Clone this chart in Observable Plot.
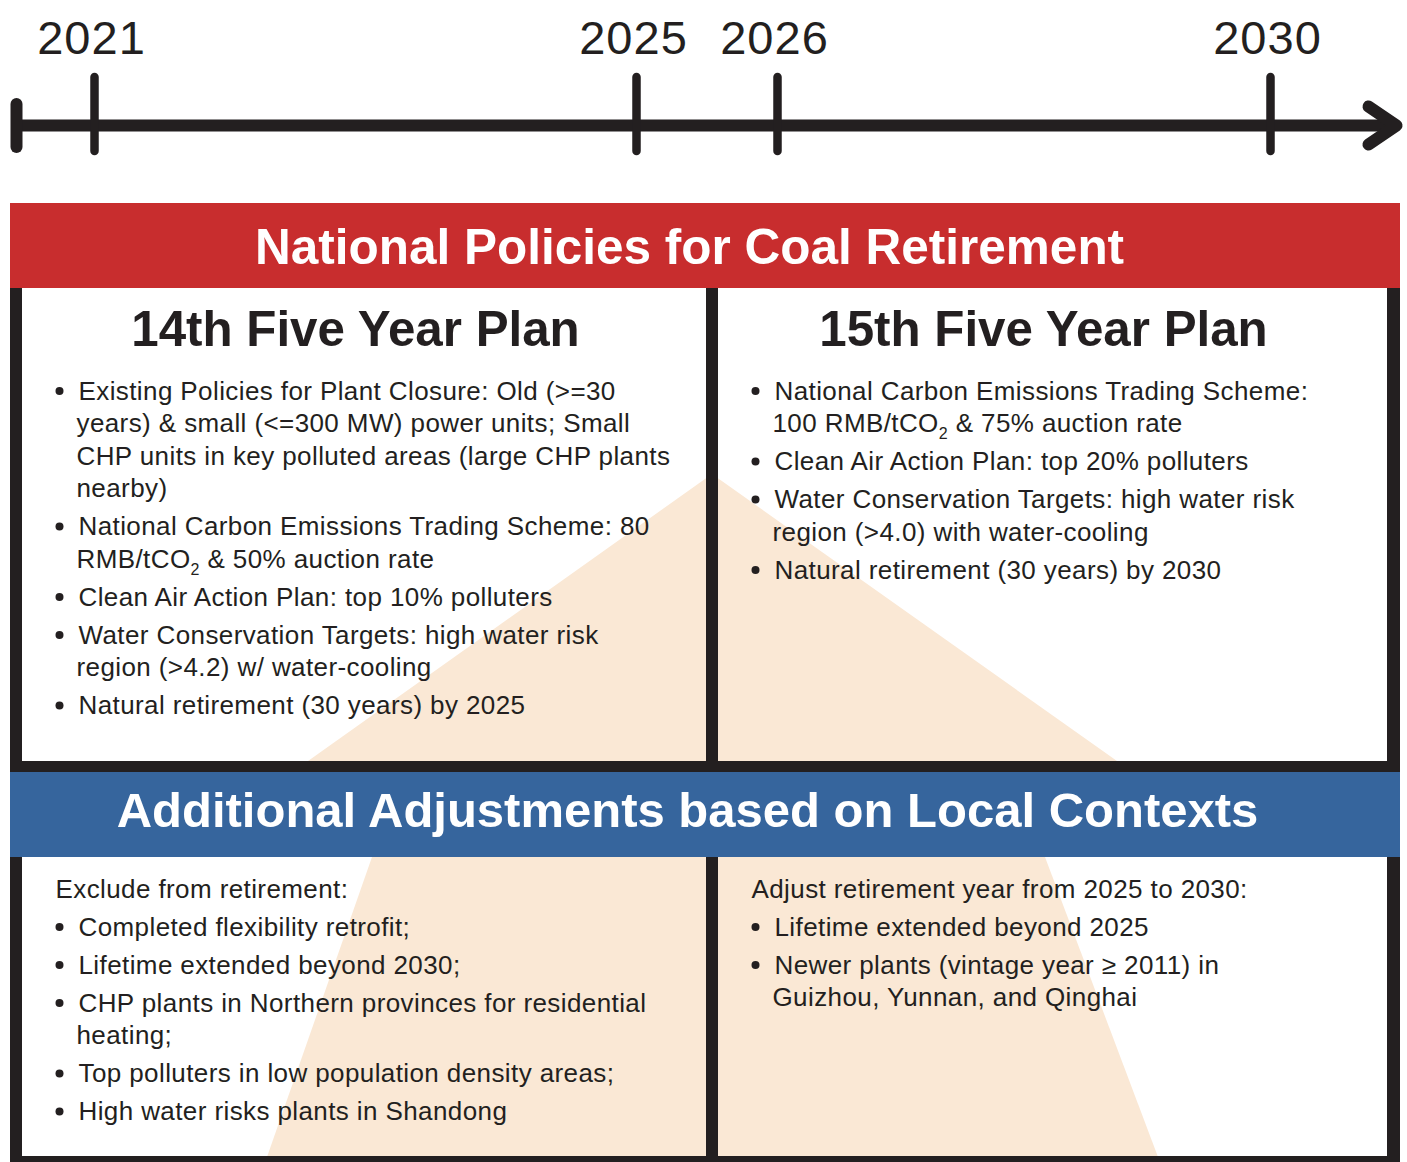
<!DOCTYPE html>
<html>
<head>
<meta charset="utf-8">
<script src="https://cdn.jsdelivr.net/npm/d3@7"></script>
<script src="https://cdn.jsdelivr.net/npm/@observablehq/plot@0.6"></script>
<style>
  html, body { margin: 0; padding: 0; background: #fff; }
  #chart svg { display: block; }
</style>
</head>
<body>
<div id="chart"></div>
<script>
// ---------------- DATA ----------------
const years = [2021, 2025, 2026, 2030];

const sectionTitles = [
  "National Policies for Coal Retirement",
  "Additional Adjustments based on Local Contexts"
];

const planTitles = ["14th Five Year Plan", "15th Five Year Plan"];

const plan14Items = [
  ["Existing Policies for Plant Closure: Old (>=30",
   "years) & small (<=300 MW) power units; Small",
   "CHP units in key polluted areas (large CHP plants",
   "nearby)"],
  ["National Carbon Emissions Trading Scheme: 80",
   "RMB/tCO₂ & 50% auction rate"],
  ["Clean Air Action Plan: top 10% polluters"],
  ["Water Conservation Targets: high water risk",
   "region (>4.2) w/ water-cooling"],
  ["Natural retirement (30 years) by 2025"]
];

const plan15Items = [
  ["National Carbon Emissions Trading Scheme:",
   "100 RMB/tCO₂ & 75% auction rate"],
  ["Clean Air Action Plan: top 20% polluters"],
  ["Water Conservation Targets: high water risk",
   "region (>4.0) with water-cooling"],
  ["Natural retirement (30 years) by 2030"]
];

const excludeIntro = "Exclude from retirement:";
const excludeItems = [
  ["Completed flexibility retrofit;"],
  ["Lifetime extended beyond 2030;"],
  ["CHP plants in Northern provinces for residential", "heating;"],
  ["Top polluters in low population density areas;"],
  ["High water risks plants in Shandong"]
];

const adjustIntro = "Adjust retirement year from 2025 to 2030:";
const adjustItems = [
  ["Lifetime extended beyond 2025"],
  ["Newer plants (vintage year ≥ 2011) in", "Guizhou, Yunnan, and Qinghai"]
];

// ---------------- LAYOUT / STYLE ----------------
const W = 1407, H = 1162;
const FONT = "'Liberation Sans', Arial, Helvetica, sans-serif";
const INK = "#231f20", RED = "#c82d2e", BLUE = "#36659d", PEACH = "#fae8d5";

// piecewise mapping of the timeline years to horizontal positions
const yearX = d3.scaleLinear().domain(years).range([94, 636, 777, 1270]);
const lineY = 125;

const BODY = 26, BODY_SPACING = "0.4px", LINE_GAP = 32.5, ITEM_GAP = 38;

function layoutBlock(items, textX, y0, intro) {
  const lines = [], bullets = [];
  let y = y0;
  if (intro) { lines.push({x: textX - 23, y, text: intro}); y += ITEM_GAP; }
  items.forEach(item => {
    bullets.push({x: textX - 19, y: y - 8.5});
    item.forEach((t, j) => {
      lines.push({x: j === 0 ? textX : textX - 2, y, text: t});
      y += j < item.length - 1 ? LINE_GAP : ITEM_GAP;
    });
  });
  return {lines, bullets};
}

const blocks = [
  layoutBlock(plan14Items, 78, 399),
  layoutBlock(plan15Items, 774, 399),
  layoutBlock(excludeItems, 78, 897, excludeIntro),
  layoutBlock(adjustItems, 774, 897, adjustIntro)
];
const allLines = blocks.flatMap(b => b.lines);
const allBullets = blocks.flatMap(b => b.bullets);

// background light shapes (upper triangle, lower trapezoid)
const upperShape = [
  {x: 308, top: 761, base: 761},
  {x: 712, top: 474, base: 761},
  {x: 1117, top: 761, base: 761}
];
const lowerShape = [
  {x: 267, top: 1157, base: 1157},
  {x: 372, top: 857, base: 1157},
  {x: 1045, top: 857, base: 1157},
  {x: 1158, top: 1157, base: 1157}
];

const bands = [
  {x1: 10, x2: 1400, y1: 203, y2: 288, fill: RED},
  {x1: 10, x2: 1400, y1: 772, y2: 857, fill: BLUE}
];
const frame = [
  {x1: 10, x2: 22, y1: 288, y2: 772},     // left upper
  {x1: 706, x2: 718, y1: 288, y2: 772},   // middle upper
  {x1: 1387, x2: 1400, y1: 288, y2: 772}, // right upper
  {x1: 10, x2: 1400, y1: 761, y2: 772},   // separator
  {x1: 10, x2: 22, y1: 857, y2: H},
  {x1: 706, x2: 718, y1: 857, y2: H},
  {x1: 1387, x2: 1400, y1: 857, y2: H},
  {x1: 10, x2: 1400, y1: 1156, y2: H}
];

const arrowHead = [{x: 1368, y: 106}, {x: 1396, y: lineY}, {x: 1368, y: 144}];

const plot = Plot.plot({
  width: W, height: H,
  margin: 0,
  x: {domain: [0, W], range: [0, W], axis: null},
  y: {domain: [0, H], range: [0, H], axis: null},
  style: {fontFamily: FONT, background: "#ffffff", color: INK},
  marks: [
    // background shapes
    Plot.areaY(upperShape, {x: "x", y1: "base", y2: "top", fill: PEACH}),
    Plot.areaY(lowerShape, {x: "x", y1: "base", y2: "top", fill: PEACH}),

    // banners and frame
    Plot.rect(bands, {x1: "x1", x2: "x2", y1: "y1", y2: "y2", fill: "fill"}),
    Plot.rect(frame, {x1: "x1", x2: "x2", y1: "y1", y2: "y2", fill: INK}),

    // timeline
    Plot.ruleY([lineY], {x1: 16, x2: 1394, stroke: INK, strokeWidth: 12}),
    Plot.ruleX([16], {y1: 104, y2: 147, stroke: INK, strokeWidth: 12, strokeLinecap: "round"}),
    Plot.ruleX(years, {x: d => yearX(d), y1: 77, y2: 151, stroke: INK, strokeWidth: 8.5, strokeLinecap: "round"}),
    Plot.line(arrowHead, {x: "x", y: "y", stroke: INK, strokeWidth: 12, strokeLinecap: "round", strokeLinejoin: "round"}),
    Plot.text(years, {x: d => yearX(d), y: 53, text: d => String(d), dx: -3, fontSize: 47,
      lineAnchor: "bottom", fill: INK, className: "yr"}),

    // section titles
    Plot.text([sectionTitles[0]], {x: 689, y: 263, text: d => d, fontSize: 49.5, fontWeight: "bold",
      fill: "white", lineAnchor: "bottom"}),
    Plot.text([sectionTitles[1]], {x: 687, y: 826, text: d => d, fontSize: 49, fontWeight: "bold",
      fill: "white", lineAnchor: "bottom"}),

    // plan titles
    Plot.text(planTitles, {x: (d, i) => [355, 1043][i], y: 345, text: d => d, fontSize: 49.3,
      fontWeight: "bold", fill: INK, lineAnchor: "bottom"}),

    // bullets + body text
    Plot.dot(allBullets, {x: "x", y: "y", r: 4, fill: INK, stroke: null}),
    Plot.text(allLines, {x: "x", y: "y", text: "text", fontSize: BODY, textAnchor: "start",
      lineAnchor: "bottom", fill: INK, className: "body"})
  ]
});

// letter spacing for body text and year labels
d3.select(plot).selectAll("g.body text").attr("letter-spacing", BODY_SPACING);
d3.select(plot).selectAll("g.yr text").attr("letter-spacing", "1px");

// render subscript "2" in tCO2
d3.select(plot).selectAll("text").each(function () {
  const t = this.textContent;
  if (!t.includes("₂")) return;
  const [before, after] = t.split("₂");
  const sel = d3.select(this);
  sel.text(null);
  sel.append("tspan").text(before);
  sel.append("tspan").attr("dy", 7).attr("font-size", 16).text("2");
  sel.append("tspan").attr("dy", -7).text(after);
});

document.getElementById("chart").appendChild(plot);
</script>
</body>
</html>
